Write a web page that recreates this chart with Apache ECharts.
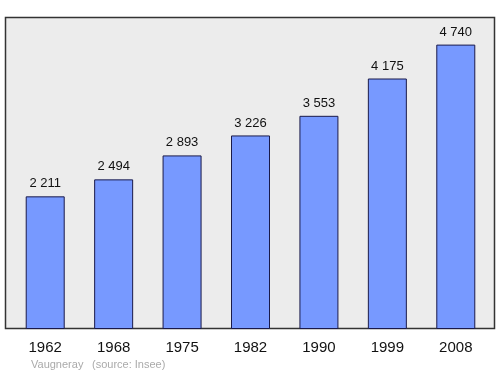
<!DOCTYPE html>
<html>
<head>
<meta charset="utf-8">
<script src="https://cdn.jsdelivr.net/npm/echarts@6/dist/echarts.min.js"></script>
<style>html,body{margin:0;padding:0;background:#fff}#c{width:500px;height:374px}</style>
</head>
<body>
<div id="c"></div>
<script>
var years = ['1962','1968','1975','1982','1990','1999','2008'];
var population = [2211, 2494, 2893, 3226, 3553, 4175, 4740];
var footerPlace = 'Vaugneray';
var footerSource = '(source: Insee)';

function fmt(v){ return String(v).replace(/\B(?=(\d{3})+(?!\d))/g, ' '); }

var chart = echarts.init(document.getElementById('c'), null, {renderer:'canvas'});
chart.setOption({
  animation: false,
  backgroundColor: '#ffffff',
  graphic: [
    {type:'rect', z:-10, shape:{x:5.5, y:17.5, width:489, height:311},
     style:{fill:'#ececec', stroke:'#333333', lineWidth:1.5}},
    {type:'text', left:31, top:359, style:{text:footerPlace, fill:'#aaaaaa', font:'11px "Liberation Sans", Arial, sans-serif'}},
    {type:'text', left:92, top:359, style:{text:footerSource, fill:'#aaaaaa', font:'11px "Liberation Sans", Arial, sans-serif'}}
  ],
  grid: {left:11, right:10, top:17, bottom:45, containLabel:false},
  xAxis: {
    type:'category', data: years,
    axisLine:{show:false}, axisTick:{show:false},
    axisLabel:{color:'#111', fontSize:15, margin:11, fontFamily:'Liberation Sans, Arial, sans-serif'}
  },
  yAxis: {
    type:'value', min:0, max:5200,
    show:false, splitLine:{show:false}
  },
  series: [{
    type:'bar', data: population, barWidth:39,
    itemStyle:{color:'#7799ff', borderColor:'#1a1a4a', borderWidth:1},
    label:{show:true, position:'top', distance:6, color:'#111', fontSize:13,
      fontFamily:'Liberation Sans, Arial, sans-serif', formatter:function(p){return fmt(p.value);}}
  }]
});
</script>
</body>
</html>
